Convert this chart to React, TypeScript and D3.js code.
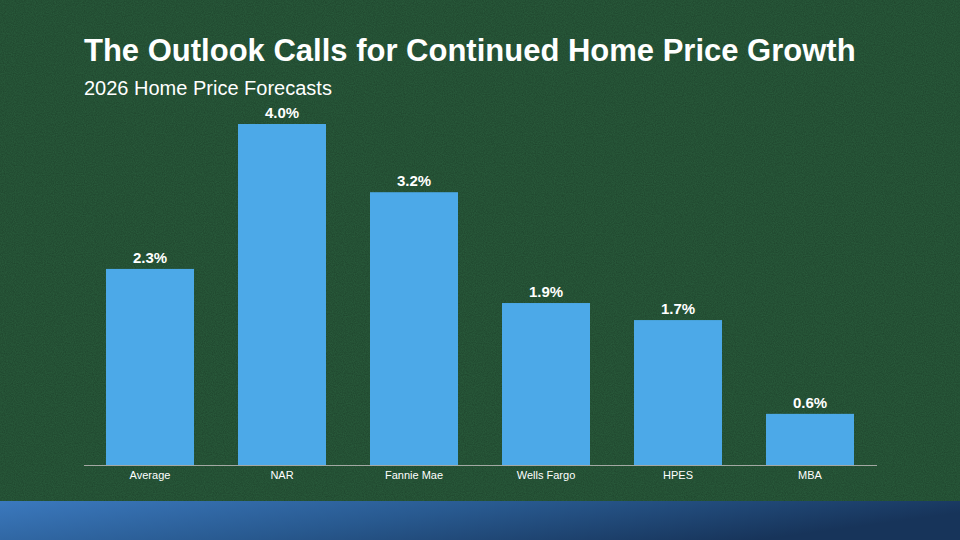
import React, { useEffect, useRef } from 'react';
import * as d3 from 'd3';

const categories = ['Average', 'NAR', 'Fannie Mae', 'Wells Fargo', 'HPES', 'MBA'];
const values = [2.3, 4.0, 3.2, 1.9, 1.7, 0.6];
const title = 'The Outlook Calls for Continued Home Price Growth';
const subtitle = '2026 Home Price Forecasts';

const W = 960;
const H = 540;

function App() {
  const ref = useRef(null);

  useEffect(() => {
    const root = d3.select(ref.current);
    root.selectAll('*').remove();

    const svg = root
      .append('svg')
      .attr('width', W)
      .attr('height', H)
      .style('display', 'block')
      .style('font-family', '"Liberation Sans", Arial, sans-serif');

    const defs = svg.append('defs');
    const noise = defs.append('filter').attr('id', 'noise').attr('x', 0).attr('y', 0).attr('width', '100%').attr('height', '100%');
    noise.append('feTurbulence').attr('type', 'fractalNoise').attr('baseFrequency', 0.9).attr('numOctaves', 2).attr('seed', 3).attr('result', 't');
    noise.append('feColorMatrix').attr('type', 'matrix')
      .attr('values', '0 0 0 0 0  0 0 0 0 0  0 0 0 0 0  0 0 0 0.3 -0.06');

    const grad = defs.append('linearGradient').attr('id', 'band').attr('x1', 0).attr('y1', 0).attr('x2', 1).attr('y2', 0.3);
    grad.append('stop').attr('offset', '0%').attr('stop-color', '#3b79be');
    grad.append('stop').attr('offset', '50%').attr('stop-color', '#28598f');
    grad.append('stop').attr('offset', '100%').attr('stop-color', '#17345a');

    // background
    svg.append('rect').attr('width', W).attr('height', H).attr('fill', '#28593a');
    svg.append('rect').attr('width', W).attr('height', H).attr('filter', 'url(#noise)');
    svg.append('rect').attr('y', 501).attr('width', W).attr('height', H - 501).attr('fill', 'url(#band)');

    svg.append('text')
      .attr('x', 84).attr('y', 61)
      .attr('fill', '#fff').attr('font-size', 31).attr('font-weight', 'bold')
      .text(title);
    svg.append('text')
      .attr('x', 84).attr('y', 95)
      .attr('fill', '#fff').attr('font-size', 20)
      .text(subtitle);

    const x = d3.scaleBand()
      .domain(categories)
      .range([84, 876])
      .paddingInner(1 / 3)
      .paddingOuter(1 / 6);

    const y = d3.scaleLinear().domain([0, 4]).range([465, 124]);

    const data = categories.map((c, i) => ({ c, v: values[i] }));

    svg.selectAll('.bar')
      .data(data)
      .enter()
      .append('rect')
      .attr('class', 'bar')
      .attr('x', (d) => x(d.c))
      .attr('y', (d) => y(d.v))
      .attr('width', x.bandwidth())
      .attr('height', (d) => y(0) - y(d.v))
      .attr('fill', '#4ca9e8');

    svg.selectAll('.val')
      .data(data)
      .enter()
      .append('text')
      .attr('class', 'val')
      .attr('x', (d) => x(d.c) + x.bandwidth() / 2)
      .attr('y', (d) => y(d.v) - 6)
      .attr('text-anchor', 'middle')
      .attr('fill', '#fff')
      .attr('font-size', 15)
      .attr('font-weight', 'bold')
      .text((d) => `${d.v.toFixed(1)}%`);

    const axis = svg.append('g')
      .attr('transform', `translate(0,${y(0)})`)
      .call(d3.axisBottom(x).tickSize(0).tickPadding(6));
    axis.select('.domain').attr('stroke', '#a3a8a3').attr('stroke-width', 1.2).attr('d', 'M84,0.5H877');
    axis.selectAll('text')
      .attr('fill', '#fff')
      .attr('font-size', 11)
      .attr('font-family', '"Liberation Sans", Arial, sans-serif');
  }, []);

  return <div ref={ref} style={{ position: 'fixed', left: 0, top: 0 }} />;
}

export default App;
